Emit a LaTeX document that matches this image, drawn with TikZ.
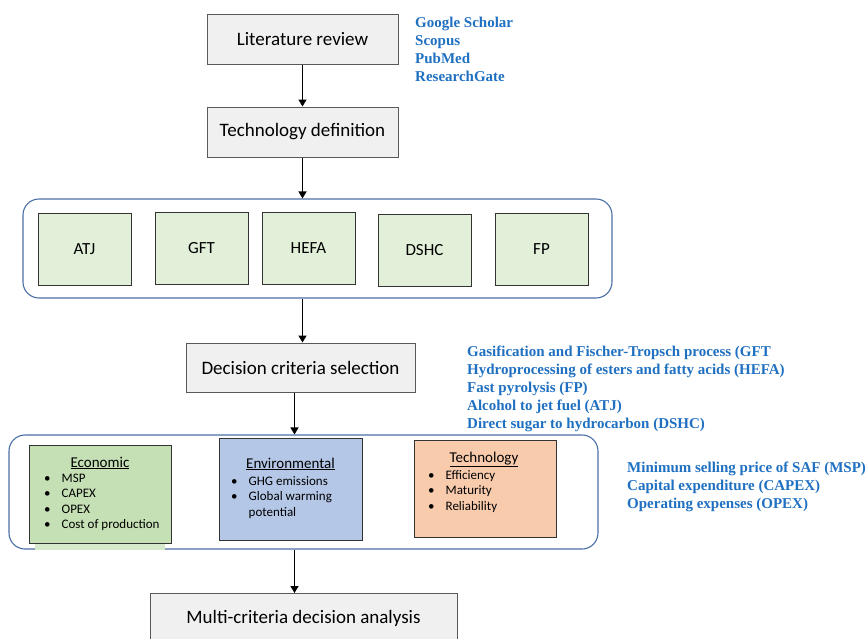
\documentclass[tikz,border=0pt]{standalone}
\usepackage{fontspec}
\setmainfont{Carlito}
\newfontfamily\blueserif{Liberation Serif}
\usetikzlibrary{arrows.meta}
\definecolor{bluetxt}{HTML}{1F70C1}
\definecolor{frameblue}{HTML}{4A6FA5}
\definecolor{graybox}{HTML}{F0F0F0}
\definecolor{greenlight}{HTML}{E2F0D9}
\definecolor{greeneco}{HTML}{C5E0B4}
\definecolor{blueenv}{HTML}{B4C7E7}
\definecolor{orangetech}{HTML}{F8CBAD}
\tikzset{
  stepbox/.style={draw=black!65, line width=1pt, fill=graybox, inner sep=0pt},
  techbox/.style={draw=black!80, line width=0.8pt, fill=greenlight, inner sep=0pt, font=\fontsize{17}{20}\selectfont},
  groupbox/.style={draw=frameblue, line width=1.1pt, rounded corners=16pt, inner sep=0pt},
  critbox/.style={draw=black!80, line width=1pt, inner sep=0pt},
  flow/.style={line width=1.5pt, -{Triangle[length=7pt,width=8pt]}},
  bluelabel/.style={text=bluetxt, font=\blueserif\bfseries\fontsize{15}{18}\selectfont, anchor=base west, inner sep=0pt},
  crittitle/.style={font=\fontsize{15}{18}\selectfont, anchor=base, inner sep=0pt},
  critlist/.style={font=\fontsize{13}{15.6}\selectfont, anchor=north west, inner sep=0pt, align=left},
}
\newcommand{\ulin}[1]{\underline{#1}}
\begin{document}
\begin{tikzpicture}[x=1pt,y=-1pt]
\useasboundingbox (0,0) rectangle (868,638);
% main steps
\node[stepbox, minimum width=191pt, minimum height=50pt, font=\fontsize{19}{22}\selectfont] (lit) at (302.5,39) {Literature review};
\node[stepbox, minimum width=191pt, minimum height=50pt, font=\fontsize{19}{22}\selectfont] (def) at (302.5,132) {Technology definition};
% technologies group
\node[groupbox, minimum width=589pt, minimum height=99pt] (grp1) at (317.5,248.5) {};
\node[techbox, minimum width=93pt, minimum height=72pt] (atj) at (84.5,249) {ATJ};
\node[techbox, minimum width=93pt, minimum height=72pt] (gft) at (201.5,248) {GFT};
\node[techbox, minimum width=93pt, minimum height=72pt] (hefa) at (308.5,248) {HEFA};
\node[techbox, minimum width=93pt, minimum height=72pt] (dshc) at (424.5,250) {DSHC};
\node[techbox, minimum width=93pt, minimum height=72pt] (fp) at (541.5,249) {FP};
% decision
\node[stepbox, minimum width=229pt, minimum height=49pt, font=\fontsize{19}{22}\selectfont] (dec) at (300.5,367.5) {Decision criteria selection};
% criteria group
\node[groupbox, minimum width=589pt, minimum height=114pt] (grp2) at (303.5,492) {};
\fill[greeneco!70] (35,540) rectangle (165,550);
\node[critbox, fill=greeneco, minimum width=142pt, minimum height=98pt] (eco) at (100.5,494) {};
\node[critbox, fill=blueenv, minimum width=143pt, minimum height=102pt] (env) at (290.5,489) {};
\node[critbox, fill=orangetech, minimum width=142pt, minimum height=97pt] (tec) at (485,488.5) {};
\node[crittitle] (ecot) at (100,467) {\ulin{Economic}};
\node[critlist] (ecol) at (44,471) {\begin{tabular}{@{}l@{\hskip 11pt}l@{}}•&MSP\\•&CAPEX\\•&OPEX\\•&Cost of production\end{tabular}};
\node[crittitle] (envt) at (290.5,468) {\ulin{Environmental}};
\node[critlist] (envl) at (231,474) {\begin{tabular}{@{}l@{\hskip 11pt}l@{}}•&GHG emissions\\•&Global warming\\&potential\end{tabular}};
\node[crittitle] (tect) at (484,462) {\ulin{Technology}};
\node[critlist] (tecl) at (428,468) {\begin{tabular}{@{}l@{\hskip 11pt}l@{}}•&Efficiency\\•&Maturity\\•&Reliability\end{tabular}};
% final
\node[stepbox, minimum width=307pt, minimum height=70pt, anchor=north] (mcda) at (303.5,593) {};
\node[font=\fontsize{19}{22}\selectfont, inner sep=0pt] (mcdat) at (303.5,618) {Multi-criteria decision analysis};
% arrows
\draw[flow] (lit.south) -- (def.north);
\draw[flow] (def.south) -- (def.south |- grp1.north);
\draw[flow] (def.south |- grp1.south) -- (def.south |- dec.north);
\draw[flow] ([xshift=-8pt]def.south |- dec.south) -- ([xshift=-8pt]def.south |- grp2.north);
\draw[flow] ([xshift=-8pt]def.south |- grp2.south) -- ([xshift=-8pt]def.south |- mcda.north);
% blue labels
\node[bluelabel] (s1) at (415,27) {Google Scholar};
\node[bluelabel] (s2) at (415,45) {Scopus};
\node[bluelabel] (s3) at (415,63) {PubMed};
\node[bluelabel] (s4) at (415,81) {ResearchGate};
\node[bluelabel] (t1) at (467,356) {Gasification and Fischer-Tropsch process (GFT};
\node[bluelabel] (t2) at (467,374) {Hydroprocessing of esters and fatty acids (HEFA)};
\node[bluelabel] (t3) at (467,392) {Fast pyrolysis (FP)};
\node[bluelabel] (t4) at (467,410) {Alcohol to jet fuel (ATJ)};
\node[bluelabel] (t5) at (467,428) {Direct sugar to hydrocarbon (DSHC)};
\node[bluelabel] (m1) at (627,472) {Minimum selling price of SAF (MSP)};
\node[bluelabel] (m2) at (627,490) {Capital expenditure (CAPEX)};
\node[bluelabel] (m3) at (627,508) {Operating expenses (OPEX)};
\end{tikzpicture}
\end{document}
